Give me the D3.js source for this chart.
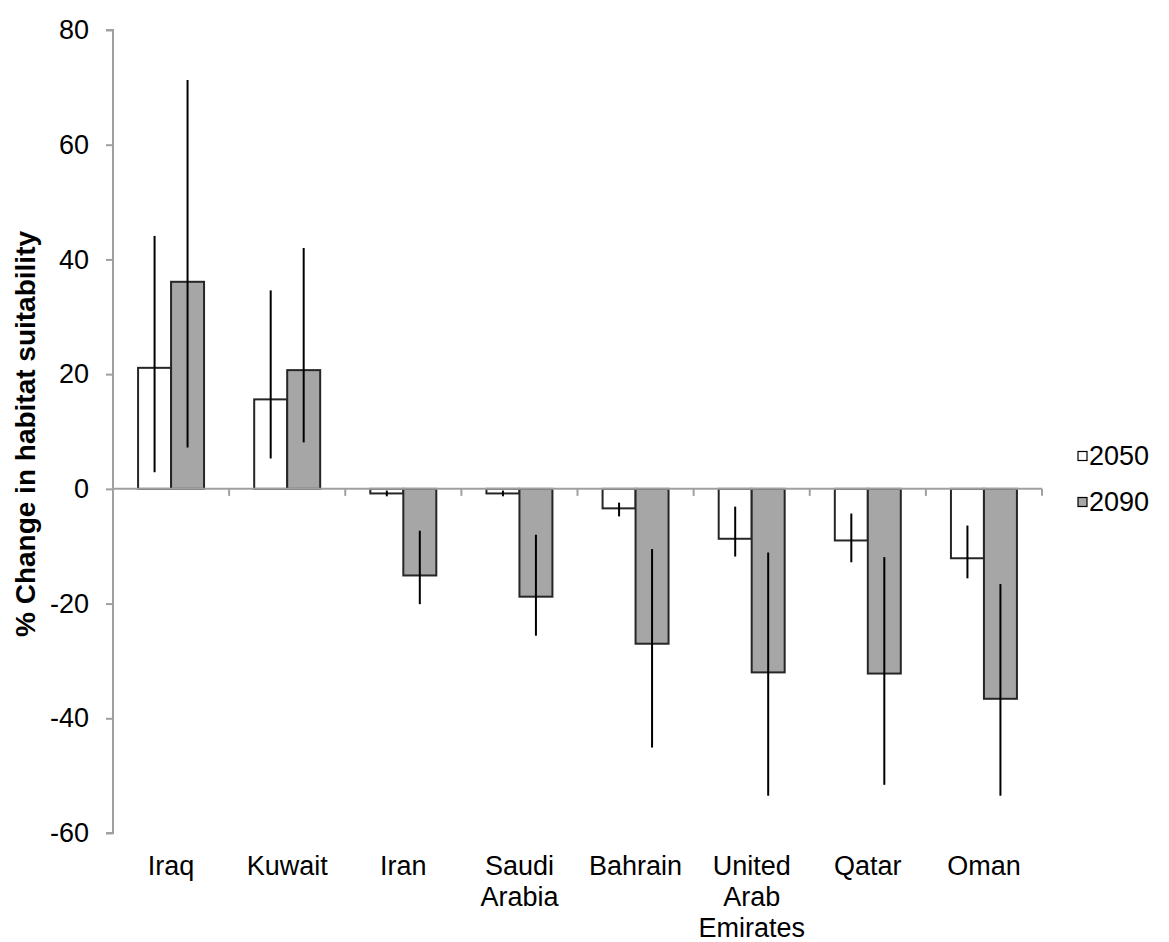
<!DOCTYPE html>
<html>
<head>
<meta charset="utf-8">
<script src="https://cdn.jsdelivr.net/npm/d3@7"></script>
<style>
  html, body { margin: 0; padding: 0; background: #fff; }
  svg { display: block; font-family: "Liberation Sans", Arial, sans-serif; }
</style>
</head>
<body>
<svg id="chart" width="1169" height="942"></svg>
<script>
// Countries (multi-line labels split on "\n")
const categories = ["Iraq", "Kuwait", "Iran", "Saudi\nArabia", "Bahrain", "United\nArab\nEmirates", "Qatar", "Oman"];
const series = ["2050", "2090"];

// Mean % change in habitat suitability, with error ranges
const v2050  = [21.1, 15.6, -0.8, -0.8, -3.4, -8.7, -9.0, -12.1];
const lo2050 = [2.9, 5.3, -1.3, -1.3, -4.8, -11.8, -12.8, -15.6];
const hi2050 = [44.1, 34.6, -0.3, -0.3, -2.4, -3.1, -4.3, -6.4];

const v2090  = [36.1, 20.7, -15.1, -18.8, -27.0, -32.0, -32.2, -36.6];
const lo2090 = [7.2, 8.1, -20.1, -25.6, -45.1, -53.5, -51.6, -53.5];
const hi2090 = [71.3, 42.0, -7.3, -8.0, -10.5, -11.1, -11.9, -16.6];

const yTicks = [80, 60, 40, 20, 0, -20, -40, -60];

const fills = { "2050": "#ffffff", "2090": "#a6a6a6" };

const rows = [];
categories.forEach((c, i) => {
  rows.push({ cat: c, s: "2050", v: v2050[i], lo: lo2050[i], hi: hi2050[i] });
  rows.push({ cat: c, s: "2090", v: v2090[i], lo: lo2090[i], hi: hi2090[i] });
});

const svg = d3.select("#chart");
const plotLeft = 113, plotRight = 1042, plotTop = 30, plotBottom = 833;

const y = d3.scaleLinear().domain([-60, 80]).range([plotBottom, plotTop]);
const x0 = d3.scaleBand().domain(categories).range([plotLeft, plotRight]).padding(0);
const x1 = d3.scaleBand().domain(series).range([0, x0.bandwidth()]).paddingInner(0).paddingOuter(0.76);

const axisColor = "#a0a0a0";
const font = 27;

// Y axis (plain hyphen for negative numbers)
const yAxis = svg.append("g")
  .attr("transform", `translate(${plotLeft},0)`)
  .call(d3.axisLeft(y).tickValues(yTicks).tickSize(7).tickPadding(17).tickFormat(d => String(d)));
yAxis.select(".domain").attr("stroke", axisColor).attr("stroke-width", 2).attr("d", `M-7,${plotTop}H0V${plotBottom}H-7`);
yAxis.selectAll(".tick line").attr("stroke", axisColor).attr("stroke-width", 2);
yAxis.selectAll(".tick text")
  .attr("fill", "#000").attr("font-size", font)
  .attr("font-family", "Liberation Sans, Arial, sans-serif");

// X axis at zero with ticks at category boundaries
const zeroY = y(0);
const xAxisG = svg.append("g");
const bounds = categories.map(c => x0(c)).concat([plotRight]);
xAxisG.selectAll("line.tk").data(bounds).join("line")
  .attr("class", "tk")
  .attr("x1", d => d).attr("x2", d => d)
  .attr("y1", zeroY).attr("y2", zeroY + 7)
  .attr("stroke", axisColor).attr("stroke-width", 2);

// Bars
const groups = svg.append("g").selectAll("g").data(rows).join("g")
  .attr("transform", d => `translate(${x0(d.cat)},0)`);

groups.append("rect")
  .attr("x", d => x1(d.s))
  .attr("width", x1.bandwidth())
  .attr("y", d => Math.min(y(d.v), zeroY))
  .attr("height", d => Math.abs(y(d.v) - zeroY))
  .attr("fill", d => fills[d.s])
  .attr("stroke", "#262626")
  .attr("stroke-width", 2);

// Error bars (no caps)
groups.append("line")
  .attr("x1", d => x1(d.s) + x1.bandwidth() / 2)
  .attr("x2", d => x1(d.s) + x1.bandwidth() / 2)
  .attr("y1", d => y(d.hi))
  .attr("y2", d => y(d.lo))
  .attr("stroke", "#000")
  .attr("stroke-width", 2);

// Zero line drawn over the bars
svg.append("line")
  .attr("x1", plotLeft).attr("x2", plotRight).attr("y1", zeroY).attr("y2", zeroY)
  .attr("stroke", axisColor).attr("stroke-width", 2);

// Category labels
const lineH = 31;
svg.append("g").selectAll("text").data(categories).join("text")
  .attr("x", d => x0(d) + x0.bandwidth() / 2)
  .attr("y", 875)
  .attr("text-anchor", "middle")
  .attr("font-size", font)
  .attr("fill", "#000")
  .each(function (d) {
    const t = d3.select(this);
    d.split("\n").forEach((ln, i) => {
      t.append("tspan")
        .attr("x", x0(d) + x0.bandwidth() / 2)
        .attr("dy", i === 0 ? 0 : lineH)
        .text(ln);
    });
  });

// Y axis title
svg.append("text")
  .attr("transform", "translate(35,434) rotate(-90)")
  .attr("text-anchor", "middle")
  .attr("font-size", 28)
  .attr("font-weight", "bold")
  .attr("fill", "#000")
  .text("% Change in habitat suitability");

// Legend
const legend = svg.append("g").selectAll("g").data(series).join("g")
  .attr("transform", (d, i) => `translate(1078,${456 + i * 46})`);
legend.append("rect")
  .attr("x", 0).attr("y", -4.5).attr("width", 9).attr("height", 9)
  .attr("fill", d => fills[d]).attr("stroke", "#000").attr("stroke-width", 1.2);
legend.append("text")
  .attr("x", 11).attr("y", 0).attr("dy", "0.35em")
  .attr("font-size", font).attr("fill", "#000")
  .text(d => d);
</script>
</body>
</html>
